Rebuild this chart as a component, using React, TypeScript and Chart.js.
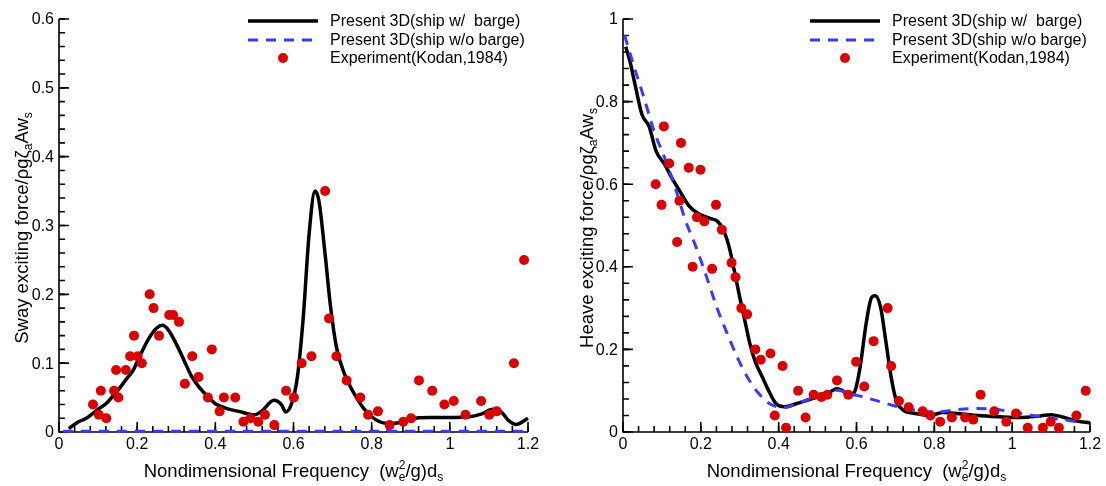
import React, { useEffect, useRef } from 'react';
import { Chart, registerables } from 'chart.js';

Chart.register(...registerables);

const FONT = '"Liberation Sans", Arial, Helvetica, sans-serif';
const RED = '#d80000';
const BLUE = '#3a3aff';

// ---------- Sway (left) ----------
const swayPresentX = [0.025, 0.05, 0.07, 0.1, 0.12, 0.15, 0.17, 0.19, 0.21, 0.23, 0.25, 0.265, 0.28, 0.3, 0.32, 0.34, 0.36, 0.38, 0.4, 0.43, 0.46, 0.5, 0.52, 0.55, 0.57, 0.58, 0.595, 0.61, 0.625, 0.64, 0.655, 0.665, 0.68, 0.695, 0.71, 0.73, 0.75, 0.78, 0.81, 0.84, 0.87, 0.9, 0.95, 1.0, 1.05, 1.08, 1.11, 1.13, 1.15, 1.17, 1.2];
const swayPresentY = [0.005, 0.015, 0.02, 0.033, 0.041, 0.06, 0.075, 0.09, 0.114, 0.136, 0.151, 0.155, 0.148, 0.128, 0.104, 0.08, 0.064, 0.052, 0.041, 0.034, 0.03, 0.025, 0.031, 0.046, 0.039, 0.029, 0.041, 0.08, 0.167, 0.288, 0.35, 0.336, 0.263, 0.181, 0.123, 0.085, 0.061, 0.034, 0.018, 0.0125, 0.0135, 0.019, 0.021, 0.021, 0.022, 0.026, 0.033, 0.03, 0.017, 0.011, 0.02];
const swayNoBargeX = [0.01, 0.2, 0.4, 0.6, 0.8, 1.0, 1.2];
const swayNoBargeY = [0.001, 0.001, 0.001, 0.001, 0.001, 0.001, 0.001];
const swayExpX = [0.087, 0.102, 0.107, 0.121, 0.141, 0.146, 0.152, 0.171, 0.182, 0.192, 0.201, 0.212, 0.232, 0.242, 0.256, 0.282, 0.292, 0.307, 0.322, 0.341, 0.357, 0.381, 0.391, 0.411, 0.422, 0.451, 0.472, 0.49, 0.51, 0.527, 0.551, 0.581, 0.601, 0.621, 0.646, 0.681, 0.691, 0.71, 0.736, 0.771, 0.791, 0.816, 0.846, 0.881, 0.901, 0.921, 0.955, 0.986, 1.01, 1.04, 1.08, 1.101, 1.12, 1.164, 1.19];
const swayExpY = [0.04, 0.025, 0.06, 0.02, 0.06, 0.09, 0.05, 0.09, 0.11, 0.14, 0.11, 0.1, 0.2, 0.18, 0.14, 0.17, 0.17, 0.16, 0.07, 0.11, 0.08, 0.05, 0.12, 0.03, 0.05, 0.05, 0.015, 0.02, 0.015, 0.025, 0.01, 0.06, 0.05, 0.1, 0.11, 0.35, 0.165, 0.11, 0.075, 0.05, 0.025, 0.03, 0.01, 0.015, 0.02, 0.075, 0.06, 0.04, 0.045, 0.025, 0.045, 0.025, 0.03, 0.1, 0.25];

// ---------- Heave (right) ----------
const heavePresentX = [0.007, 0.018, 0.031, 0.049, 0.067, 0.085, 0.107, 0.125, 0.148, 0.17, 0.197, 0.224, 0.243, 0.259, 0.273, 0.286, 0.3, 0.313, 0.326, 0.34, 0.358, 0.376, 0.393, 0.416, 0.447, 0.483, 0.519, 0.55, 0.563, 0.581, 0.595, 0.608, 0.626, 0.639, 0.648, 0.662, 0.675, 0.689, 0.702, 0.72, 0.751, 0.787, 0.823, 0.858, 0.912, 0.966, 1.019, 1.073, 1.1, 1.127, 1.163, 1.2];
const heavePresentY = [0.933, 0.897, 0.841, 0.768, 0.74, 0.68, 0.648, 0.616, 0.58, 0.547, 0.527, 0.517, 0.51, 0.487, 0.447, 0.391, 0.326, 0.27, 0.214, 0.17, 0.133, 0.097, 0.069, 0.061, 0.069, 0.08, 0.089, 0.105, 0.101, 0.089, 0.097, 0.15, 0.27, 0.326, 0.33, 0.302, 0.222, 0.133, 0.077, 0.053, 0.045, 0.04, 0.047, 0.045, 0.04, 0.037, 0.035, 0.039, 0.042, 0.037, 0.027, 0.022];
const heaveNoBargeX = [0.004, 0.027, 0.054, 0.08, 0.107, 0.134, 0.161, 0.188, 0.215, 0.241, 0.268, 0.295, 0.322, 0.349, 0.376, 0.411, 0.447, 0.483, 0.519, 0.554, 0.581, 0.617, 0.662, 0.706, 0.751, 0.805, 0.849, 0.903, 0.957, 1.002, 1.046, 1.091, 1.136, 1.18];
const heaveNoBargeY = [0.961, 0.889, 0.809, 0.728, 0.664, 0.592, 0.511, 0.447, 0.375, 0.302, 0.238, 0.178, 0.129, 0.093, 0.069, 0.059, 0.069, 0.081, 0.093, 0.101, 0.093, 0.085, 0.073, 0.061, 0.053, 0.048, 0.053, 0.057, 0.055, 0.048, 0.041, 0.035, 0.029, 0.023];
const heaveExpX = [0.084, 0.099, 0.105, 0.119, 0.139, 0.145, 0.149, 0.169, 0.179, 0.19, 0.199, 0.209, 0.229, 0.239, 0.254, 0.279, 0.289, 0.304, 0.319, 0.34, 0.354, 0.379, 0.39, 0.41, 0.419, 0.45, 0.469, 0.49, 0.51, 0.525, 0.55, 0.579, 0.599, 0.62, 0.644, 0.68, 0.689, 0.709, 0.734, 0.77, 0.79, 0.815, 0.845, 0.879, 0.9, 0.919, 0.954, 0.985, 1.01, 1.04, 1.079, 1.099, 1.12, 1.165, 1.189];
const heaveExpY = [0.6, 0.55, 0.74, 0.65, 0.46, 0.56, 0.7, 0.64, 0.4, 0.52, 0.635, 0.51, 0.395, 0.55, 0.49, 0.41, 0.375, 0.3, 0.285, 0.2, 0.175, 0.19, 0.04, 0.16, 0.01, 0.1, 0.035, 0.09, 0.085, 0.09, 0.125, 0.09, 0.17, 0.11, 0.22, 0.3, 0.16, 0.075, 0.06, 0.05, 0.04, 0.025, 0.035, 0.035, 0.03, 0.09, 0.05, 0.025, 0.045, 0.01, 0.01, 0.025, 0.01, 0.04, 0.1];

// ---------- Axes ----------
const xTickValues = [0, 0.2, 0.4, 0.6, 0.8, 1.0, 1.2];
const xTickLabels = ['0', '0.2', '0.4', '0.6', '0.8', '1', '1.2'];
const swayTickValues = [0, 0.1, 0.2, 0.3, 0.4, 0.5, 0.6];
const swayTickLabels = ['0', '0.1', '0.2', '0.3', '0.4', '0.5', '0.6'];
const heaveTickValues = [0, 0.2, 0.4, 0.6, 0.8, 1.0];
const heaveTickLabels = ['0', '0.2', '0.4', '0.6', '0.8', '1'];
const legendLabels = ['Present 3D(ship w/  barge)', 'Present 3D(ship w/o barge)', 'Experiment(Kodan,1984)'];

type Seg = { t: string; m?: 'sub' | 'subsup'; s2?: string };

const xTitle: Seg[] = [
  { t: 'Nondimensional Frequency  (w' },
  { t: 'e', m: 'subsup', s2: '2' },
  { t: '/g)d' },
  { t: 's', m: 'sub' },
];
const swayTitle: Seg[] = [
  { t: 'Sway exciting force/\u03c1g\u03b6' },
  { t: 'a', m: 'sub' },
  { t: 'Aw' },
  { t: 's', m: 'sub' },
];
const heaveTitle: Seg[] = [
  { t: 'Heave exciting force/\u03c1g\u03b6' },
  { t: 'a', m: 'sub' },
  { t: 'Aw' },
  { t: 's', m: 'sub' },
];

function segsWidth(ctx: CanvasRenderingContext2D, segs: Seg[], size: number) {
  let w = 0;
  for (const s of segs) {
    if (!s.m) {
      ctx.font = `${size}px ${FONT}`;
      w += ctx.measureText(s.t).width;
    } else {
      ctx.font = `${size * 0.65}px ${FONT}`;
      const a = ctx.measureText(s.t).width;
      const b = s.s2 ? ctx.measureText(s.s2).width : 0;
      w += Math.max(a, b);
    }
  }
  return w;
}

function drawSegs(ctx: CanvasRenderingContext2D, segs: Seg[], x: number, y: number, size: number) {
  let cx = x;
  ctx.textAlign = 'left';
  ctx.textBaseline = 'alphabetic';
  for (const s of segs) {
    if (!s.m) {
      ctx.font = `${size}px ${FONT}`;
      ctx.fillText(s.t, cx, y);
      cx += ctx.measureText(s.t).width;
    } else {
      ctx.font = `${size * 0.65}px ${FONT}`;
      const a = ctx.measureText(s.t).width;
      ctx.fillText(s.t, cx, y + size * 0.24);
      let b = 0;
      if (s.s2) {
        b = ctx.measureText(s.s2).width;
        ctx.fillText(s.s2, cx, y - size * 0.42);
      }
      cx += Math.max(a, b);
    }
  }
}

type PanelCfg = {
  width: number;
  padding: { left: number; right: number; top: number; bottom: number };
  yMax: number;
  yTickValues: number[];
  yTickLabels: string[];
  yMinor: number;
  yTitle: Seg[];
  yTitleX: number;
  presentX: number[];
  presentY: number[];
  noBargeX: number[];
  noBargeY: number[];
  expX: number[];
  expY: number[];
  legendX: number;
};

function zip(xs: number[], ys: number[]) {
  return xs.map((x, i) => ({ x, y: ys[i] }));
}

function Panel({ cfg, left }: { cfg: PanelCfg; left: number }) {
  const ref = useRef<HTMLCanvasElement | null>(null);
  useEffect(() => {
    const canvas = ref.current;
    if (!canvas) return;
    const axesPlugin = {
      id: 'tecAxes',
      beforeDatasetsDraw(chart: any) {
        const ctx: CanvasRenderingContext2D = chart.ctx;
        const xs = chart.scales.x;
        const ys = chart.scales.y;
        const a = chart.chartArea;
        ctx.save();
        ctx.strokeStyle = '#000';
        ctx.fillStyle = '#000';
        ctx.lineWidth = 1.6;
        // axis lines
        ctx.beginPath();
        ctx.moveTo(a.left, a.top);
        ctx.lineTo(a.left, a.bottom);
        ctx.lineTo(a.right, a.bottom);
        ctx.stroke();
        // minor ticks
        ctx.beginPath();
        for (let v = 0; v <= 1.2 + 1e-9; v += 0.04) {
          const px = xs.getPixelForValue(v);
          ctx.moveTo(px, a.bottom);
          ctx.lineTo(px, a.bottom - 6);
        }
        for (let v = 0; v <= cfg.yMax + 1e-9; v += cfg.yMinor) {
          const py = ys.getPixelForValue(v);
          ctx.moveTo(a.left, py);
          ctx.lineTo(a.left + 6, py);
        }
        ctx.stroke();
        // major ticks
        ctx.beginPath();
        xTickValues.forEach((v) => {
          const px = xs.getPixelForValue(v);
          ctx.moveTo(px, a.bottom);
          ctx.lineTo(px, a.bottom - 10);
        });
        cfg.yTickValues.forEach((v) => {
          const py = ys.getPixelForValue(v);
          ctx.moveTo(a.left, py);
          ctx.lineTo(a.left + 10, py);
        });
        ctx.stroke();
        // tick labels
        ctx.font = `16px ${FONT}`;
        ctx.textAlign = 'center';
        ctx.textBaseline = 'alphabetic';
        xTickValues.forEach((v, i) => {
          ctx.fillText(xTickLabels[i], xs.getPixelForValue(v), a.bottom + 17);
        });
        ctx.textAlign = 'right';
        ctx.textBaseline = 'middle';
        cfg.yTickValues.forEach((v, i) => {
          ctx.fillText(cfg.yTickLabels[i], a.left - 5, ys.getPixelForValue(v) + 1);
        });
        // x title
        const tsize = 18.5;
        const xw = segsWidth(ctx, xTitle, tsize);
        drawSegs(ctx, xTitle, (a.left + a.right) / 2 - xw / 2, 477, tsize);
        // y title
        const yw = segsWidth(ctx, cfg.yTitle, tsize);
        ctx.save();
        ctx.translate(cfg.yTitleX, 228);
        ctx.rotate(-Math.PI / 2);
        drawSegs(ctx, cfg.yTitle, -yw / 2, 0, tsize);
        ctx.restore();
        // legend
        const lx = cfg.legendX;
        const rows = [21, 40, 58];
        ctx.lineWidth = 3.5;
        ctx.strokeStyle = '#000';
        ctx.beginPath();
        ctx.moveTo(lx, rows[0]);
        ctx.lineTo(lx + 70, rows[0]);
        ctx.stroke();
        ctx.strokeStyle = BLUE;
        ctx.lineWidth = 3;
        ctx.setLineDash([10, 8]);
        ctx.beginPath();
        ctx.moveTo(lx, rows[1]);
        ctx.lineTo(lx + 70, rows[1]);
        ctx.stroke();
        ctx.setLineDash([]);
        ctx.fillStyle = RED;
        ctx.beginPath();
        ctx.arc(lx + 35, rows[2], 5, 0, Math.PI * 2);
        ctx.fill();
        ctx.fillStyle = '#000';
        ctx.font = `16px ${FONT}`;
        ctx.textAlign = 'left';
        ctx.textBaseline = 'middle';
        legendLabels.forEach((t, i) => ctx.fillText(t, lx + 82, rows[i] + 1));
        ctx.restore();
      },
    };

    const chart = new Chart(canvas, {
      type: 'scatter',
      data: {
        datasets: [
          {
            label: legendLabels[2],
            data: zip(cfg.expX, cfg.expY),
            showLine: false,
            pointRadius: 5,
            pointBackgroundColor: RED,
            pointBorderWidth: 0,
            backgroundColor: RED,
            borderColor: RED,
            clip: false,
            order: 0,
          } as any,
          {
            label: legendLabels[1],
            data: zip(cfg.noBargeX, cfg.noBargeY),
            showLine: true,
            pointRadius: 0,
            borderColor: BLUE,
            borderWidth: 3,
            borderDash: [10, 8],
            cubicInterpolationMode: 'monotone',
            clip: false,
            order: 1,
          } as any,
          {
            label: legendLabels[0],
            data: zip(cfg.presentX, cfg.presentY),
            showLine: true,
            pointRadius: 0,
            borderColor: '#000',
            borderWidth: 3.5,
            cubicInterpolationMode: 'monotone',
            clip: false,
            order: 2,
          } as any,
        ],
      },
      options: {
        responsive: false,
        animation: false,
        devicePixelRatio: 1,
        layout: { padding: cfg.padding },
        plugins: { legend: { display: false }, tooltip: { enabled: false } },
        events: [],
        scales: {
          x: { type: 'linear', min: 0, max: 1.2, display: false },
          y: { type: 'linear', min: 0, max: cfg.yMax, display: false },
        },
      },
      plugins: [axesPlugin],
    });
    return () => chart.destroy();
  }, [cfg]);
  return (
    <canvas
      ref={ref}
      width={cfg.width}
      height={486}
      style={{ position: 'absolute', left, top: 0, width: cfg.width, height: 486 }}
    />
  );
}

const swayCfg: PanelCfg = {
  width: 560,
  padding: { left: 59, right: 32, top: 19, bottom: 54 },
  yMax: 0.6,
  yTickValues: swayTickValues,
  yTickLabels: swayTickLabels,
  yMinor: 0.02,
  yTitle: swayTitle,
  yTitleX: 28,
  presentX: swayPresentX,
  presentY: swayPresentY,
  noBargeX: swayNoBargeX,
  noBargeY: swayNoBargeY,
  expX: swayExpX,
  expY: swayExpY,
  legendX: 248,
};

const heaveCfg: PanelCfg = {
  width: 546,
  padding: { left: 63, right: 16, top: 19, bottom: 54 },
  yMax: 1.0,
  yTickValues: heaveTickValues,
  yTickLabels: heaveTickLabels,
  yMinor: 0.04,
  yTitle: heaveTitle,
  yTitleX: 33,
  presentX: heavePresentX,
  presentY: heavePresentY,
  noBargeX: heaveNoBargeX,
  noBargeY: heaveNoBargeY,
  expX: heaveExpX,
  expY: heaveExpY,
  legendX: 250,
};

export default function App() {
  return (
    <div style={{ position: 'fixed', left: 0, top: 0, width: 1106, height: 486, background: '#fff' }}>
      <Panel cfg={swayCfg} left={0} />
      <Panel cfg={heaveCfg} left={560} />
    </div>
  );
}
